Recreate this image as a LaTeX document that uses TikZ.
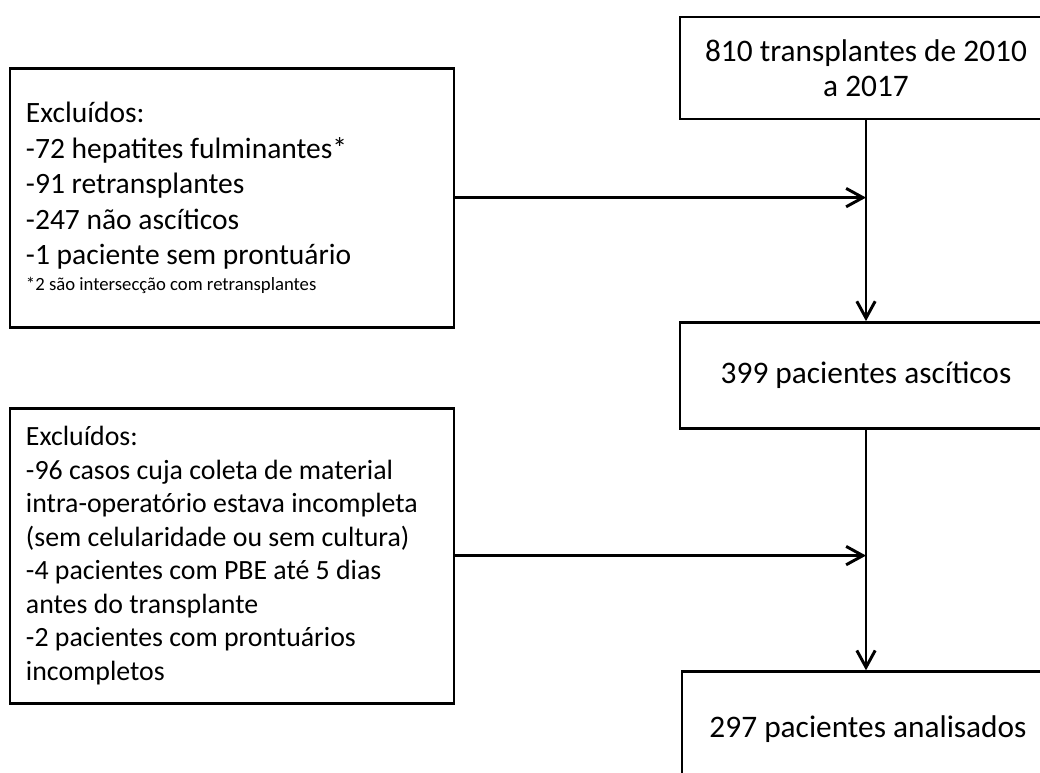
\documentclass[tikz,border=0pt]{standalone}
\usepackage{fontspec}
\setmainfont{Carlito}
\usepackage{tikz}
\usetikzlibrary{arrows.meta, positioning, calc}
\newcommand{\FlowSz}{\fontsize{22.3}{24.6}\selectfont}
\newcommand{\ExclSz}{\fontsize{21}{25.3}\selectfont}
\newcommand{\ExclSmSz}{\fontsize{19.8}{23.8}\selectfont}
\newcommand{\NoteSz}{\fontsize{13.3}{15}\selectfont}
\tikzset{
  flowbox/.style={rectangle, draw=black, line width=2.1pt, fill=white,
    font=\FlowSz, align=flush center, minimum width=9.3cm, minimum height=2.55cm, inner sep=3pt},
  exclbox/.style={rectangle, draw=black, line width=2.1pt, fill=white,
    font=\ExclSz, align=flush left, text width=10.3cm, minimum width=11.1cm,
    inner xsep=0.4cm, inner ysep=0.3cm},
  ar/.style={-{Straight Barb[length=0.42cm, width=0.46cm]}, draw=black, line width=2.1pt},
}

\begin{document}
\begin{tikzpicture}
\useasboundingbox (0,0) rectangle (26,-19.325);

\node[flowbox] (TOT) at (21.65,-1.7)  {810 transplantes de 2010\\a 2017};
\node[flowbox, minimum height=2.65cm] (ASC) at (21.65,-9.39) {399 pacientes ascíticos};
\node[flowbox, minimum height=2.85cm] (ANA) at (21.7,-18.22) {297 pacientes analisados};

\node[exclbox, minimum height=6.475cm] (EX1) at (5.8,-4.94) {Excluídos:\\
-72 hepatites fulminantes*\\
-91 retransplantes\\
-247 não ascíticos\\
-1 paciente sem prontuário\\[3pt]
{\NoteSz *2 são intersecção com retransplantes\par}};

\node[exclbox, font=\ExclSmSz, minimum height=7.375cm] (EX2) at (5.8,-13.89) {Excluídos:\\
-96 casos cuja coleta de material\\
intra-operatório estava incompleta\\
(sem celularidade ou sem cultura)\\
-4 pacientes com PBE até 5 dias\\
antes do transplante\\
-2 pacientes com prontuários\\
incompletos};

\draw[ar] (TOT.south) -- (ASC.north);
\draw[ar] (ASC.south) -- (ASC.south |- ANA.north);
\draw[ar] (EX1.east) -- (EX1.east -| TOT.south);
\draw[ar] (EX2.east) -- (EX2.east -| ASC.south);
\end{tikzpicture}
\end{document}
